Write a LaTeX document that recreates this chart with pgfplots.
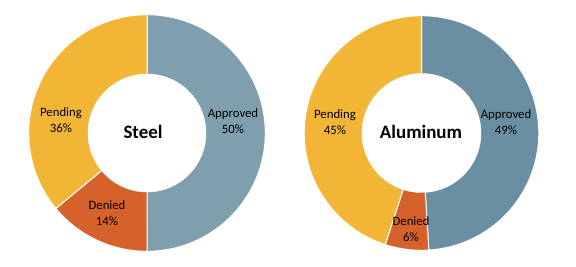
\documentclass[border=0pt]{standalone}
\usepackage{pgfplots}
\pgfplotsset{compat=1.18}
\usepackage{fontspec}
\setmainfont{Carlito}
\definecolor{apprS}{HTML}{7F9FAE}
\definecolor{apprA}{HTML}{6A8FA3}
\definecolor{denied}{HTML}{D4622A}
\definecolor{pending}{HTML}{F2B536}
% shares in percent
\def\steelApproved{50}\def\steelDenied{14}\def\steelPending{36}
\def\aluApproved{49}\def\aluDenied{6}\def\aluPending{45}
\begin{document}
\begin{tikzpicture}
\pgfmathsetmacro{\sA}{90-3.6*\steelApproved}
\pgfmathsetmacro{\sB}{\sA-3.6*\steelDenied}
\pgfmathsetmacro{\sC}{\sB-3.6*\steelPending}
\pgfmathsetmacro{\aA}{90-3.6*\aluApproved}
\pgfmathsetmacro{\aB}{\aA-3.6*\aluDenied}
\pgfmathsetmacro{\aC}{\aB-3.6*\aluPending}
\begin{axis}[x=1bp,y=1bp,xmin=0,xmax=576,ymin=0,ymax=266,hide axis,scale only axis,clip=false,
  variable=\t, samples=90, trig format plots=deg]
\path (axis cs:0,0) rectangle (axis cs:576,266);
% Steel: centre (147,133)
\addplot[fill=apprS, draw=white, line width=1pt, domain=\sA:90] ({147+118.3*cos(t)},{133+118.3*sin(t)}) -- (axis cs:147,133) -- cycle;
\addplot[fill=denied, draw=white, line width=1pt, domain=\sB:\sA] ({147+118.3*cos(t)},{133+118.3*sin(t)}) -- (axis cs:147,133) -- cycle;
\addplot[fill=pending, draw=white, line width=1pt, domain=\sC:\sB] ({147+118.3*cos(t)},{133+118.3*sin(t)}) -- (axis cs:147,133) -- cycle;
\addplot[fill=white, draw=white, domain=0:360, samples=120] ({147+59*cos(t)},{133+59*sin(t)}) -- cycle;
% Aluminum: centre (421.5,133)
\addplot[fill=apprA, draw=white, line width=1pt, domain=\aA:90] ({421.5+117.3*cos(t)},{133+117.3*sin(t)}) -- (axis cs:421.5,133) -- cycle;
\addplot[fill=denied, draw=white, line width=1pt, domain=\aB:\aA, samples=30] ({421.5+117.3*cos(t)},{133+117.3*sin(t)}) -- (axis cs:421.5,133) -- cycle;
\addplot[fill=pending, draw=white, line width=1pt, domain=\aC:\aB] ({421.5+117.3*cos(t)},{133+117.3*sin(t)}) -- (axis cs:421.5,133) -- cycle;
\addplot[fill=white, draw=white, domain=0:360, samples=120] ({421.5+59.5*cos(t)},{133+59.5*sin(t)}) -- cycle;
% labels
\tikzset{lab/.style={align=center, font=\fontsize{12.8}{16}\selectfont, inner sep=0pt}}
\node[lab] at (axis cs:233,145) {Approved\\50\%};
\node[lab] at (axis cs:61,146) {Pending\\36\%};
\node[lab] at (axis cs:107,53) {Denied\\14\%};
\node[font=\fontsize{19}{20}\selectfont\bfseries] at (axis cs:143,134) {Steel};
\node[lab] at (axis cs:506,144) {Approved\\49\%};
\node[lab] at (axis cs:335,144) {Pending\\45\%};
\node[lab] at (axis cs:411,37) {Denied\\6\%};
\node[font=\fontsize{19}{20}\selectfont\bfseries] at (axis cs:421,134) {Aluminum};
\end{axis}
\end{tikzpicture}
\end{document}
